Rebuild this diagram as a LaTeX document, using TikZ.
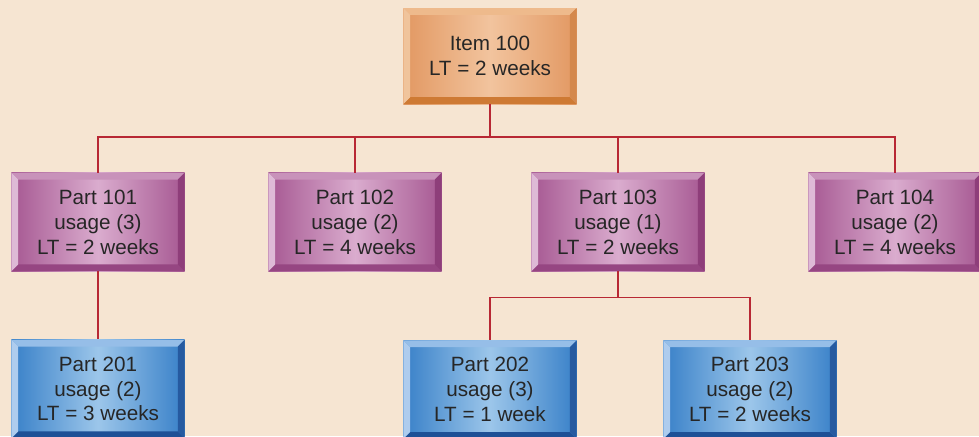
\documentclass[tikz,border=0pt]{standalone}
\usepackage{fontspec}
\setmainfont{Liberation Sans}
\usetikzlibrary{positioning}

% colours of the three box kinds
\definecolor{paper}{RGB}{246,229,210}
\definecolor{linkred}{RGB}{184,40,52}
\definecolor{itemface}{RGB}{226,152,98}
\definecolor{itemlight}{RGB}{242,196,158}
\definecolor{itemtop}{RGB}{238,186,140}
\definecolor{itemleft}{RGB}{240,196,156}
\definecolor{itemright}{RGB}{212,136,76}
\definecolor{itembottom}{RGB}{206,122,52}
\definecolor{partface}{RGB}{166,88,146}
\definecolor{partlight}{RGB}{218,172,206}
\definecolor{parttop}{RGB}{200,146,186}
\definecolor{partleft}{RGB}{222,186,214}
\definecolor{partright}{RGB}{142,62,122}
\definecolor{partbottom}{RGB}{150,70,130}
\definecolor{subface}{RGB}{56,128,200}
\definecolor{sublight}{RGB}{156,198,234}
\definecolor{subtop}{RGB}{150,190,232}
\definecolor{subleft}{RGB}{174,204,238}
\definecolor{subright}{RGB}{38,90,160}
\definecolor{subbottom}{RGB}{30,80,150}

\newcommand{\bevw}{0.17cm}

\begin{document}
\begin{tikzpicture}[
    box/.style={
        rectangle, minimum width=4.33cm, minimum height=2.46cm,
        align=center, inner sep=0pt,
        font=\fontsize{14.7}{17.7}\selectfont, text=black!85
    },
    bevel/.style={
        left color=#1face, right color=#1face, middle color=#1light,
        path picture={
            \fill[#1top] (path picture bounding box.north west) -- (path picture bounding box.north east)
                -- ([shift={(-\bevw,-\bevw)}]path picture bounding box.north east)
                -- ([shift={(\bevw,-\bevw)}]path picture bounding box.north west) -- cycle;
            \fill[#1bottom] (path picture bounding box.south west) -- (path picture bounding box.south east)
                -- ([shift={(-\bevw,\bevw)}]path picture bounding box.south east)
                -- ([shift={(\bevw,\bevw)}]path picture bounding box.south west) -- cycle;
            \fill[#1left] (path picture bounding box.north west) -- (path picture bounding box.south west)
                -- ([shift={(\bevw,\bevw)}]path picture bounding box.south west)
                -- ([shift={(\bevw,-\bevw)}]path picture bounding box.north west) -- cycle;
            \fill[#1right] (path picture bounding box.north east) -- (path picture bounding box.south east)
                -- ([shift={(-\bevw,\bevw)}]path picture bounding box.south east)
                -- ([shift={(-\bevw,-\bevw)}]path picture bounding box.north east) -- cycle;
        }
    },
    link/.style={draw=linkred, line width=1.4pt},
]

% paper
\fill[paper] (0,0) rectangle (24.475,-10.9);
\useasboundingbox (0,0) rectangle (24.475,-10.9);

% Top item
\node[box, bevel=item, minimum height=2.4cm] (item) at (12.25,-1.4) {Item 100\\LT = 2 weeks};

% Level 1 parts
\node[box, bevel=part] (p101) at (2.45,-5.55) {Part 101\\usage (3)\\LT = 2 weeks};
\node[box, bevel=part] (p102) at (8.875,-5.55) {Part 102\\usage (2)\\LT = 4 weeks};
\node[box, bevel=part] (p103) at (15.45,-5.55) {Part 103\\usage (1)\\LT = 2 weeks};
\node[box, bevel=part] (p104) at (22.375,-5.55) {Part 104\\usage (2)\\LT = 4 weeks};

% Level 2 parts
\node[box, bevel=sub, below=1.7cm of p101] (p201) {Part 201\\usage (2)\\LT = 3 weeks};
\node[box, bevel=sub] (p202) at (12.25,-9.74) {Part 202\\usage (3)\\LT = 1 week};
\node[box, bevel=sub] (p203) at (18.75,-9.74) {Part 203\\usage (2)\\LT = 2 weeks};

% Item to level 1
\draw[link] (item.south) -- ++(0,-0.825) -| (p101.north);
\draw[link] (item.south) -- ++(0,-0.825) -| (p102.north);
\draw[link] (item.south) -- ++(0,-0.825) -| (p103.north);
\draw[link] (item.south) -- ++(0,-0.825) -| (p104.north);

% Level 1 to level 2
\draw[link] (p101.south) -- (p201.north);
\draw[link] (p103.south) -- ++(0,-0.65) -| (p202.north);
\draw[link] (p103.south) -- ++(0,-0.65) -| (p203.north);

\end{tikzpicture}
\end{document}
